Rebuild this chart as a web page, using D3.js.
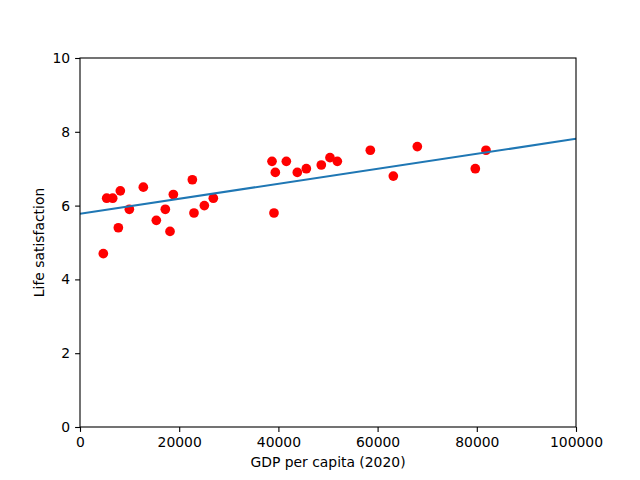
<!DOCTYPE html>
<html lang="en">
<head>
  <meta charset="UTF-8">
  <title>Life satisfaction vs GDP</title>
  <style>
    body { margin: 0; background: #fff; }
    svg { display: block; }
  </style>
</head>
<body>

  <svg id="svg" width="640" height="480"></svg>

  <script src="https://d3js.org/d3.v7.min.js"></script>
  <script>
    // GDP per capita (2020) for each country
    const gdp = [4700, 5380, 6590, 8130, 7730, 9950, 12770, 15390, 17200, 18150,
      18820, 22650, 22980, 25070, 26880, 38710, 39380, 39110, 41600, 43810,
      45630, 48650, 50400, 51880, 58530, 63170, 68010, 79700, 81850]
    // life satisfaction, same order
    const satisfaction = [4.7, 6.2, 6.2, 6.4, 5.4, 5.9, 6.5, 5.6, 5.9, 5.3,
      6.3, 6.7, 5.8, 6.0, 6.2, 7.2, 6.9, 5.8, 7.2, 6.9,
      7.0, 7.1, 7.3, 7.2, 7.5, 6.8, 7.6, 7.0, 7.5]

    // fitted line, end points
    const fitX = [0, 100000]
    const fitY = [5.78, 7.81]

    const xTicks = [0, 20000, 40000, 60000, 80000, 100000]
    const yTicks = [0, 2, 4, 6, 8, 10]

    const m = { left: 80, right: 576, top: 58, bottom: 427 }
    const font = 'DejaVu Sans, sans-serif'

    const svg = d3.select('#svg')

    const xScale = d3.scaleLinear()
      .domain([0, 100000])
      .range([m.left, m.right])

    const yScale = d3.scaleLinear()
      .domain([0, 10])
      .range([m.bottom, m.top])

    // points
    svg.append('g')
      .selectAll('circle')
      .data(gdp)
      .enter()
      .append('circle')
      .attr('cx', d => xScale(d))
      .attr('cy', (d, i) => yScale(satisfaction[i]))
      .attr('r', 4.85)
      .attr('fill', 'red')

    // fitted line, clipped to the axes
    svg.append('clipPath')
      .attr('id', 'clip')
      .append('rect')
      .attr('x', m.left)
      .attr('y', m.top)
      .attr('width', m.right - m.left)
      .attr('height', m.bottom - m.top)

    svg.append('path')
      .attr('d', d3.line()(fitX.map((x, i) => [xScale(x), yScale(fitY[i])])))
      .attr('stroke', '#1f77b4')
      .attr('stroke-width', 2.08)
      .attr('fill', 'none')
      .attr('clip-path', 'url(#clip)')

    // axes
    const xAxis = svg.append('g')
      .attr('transform', `translate(0,${m.bottom})`)
      .call(d3.axisBottom(xScale).tickValues(xTicks).tickFormat(d3.format('d'))
        .tickSizeInner(4.9).tickSizeOuter(0).tickPadding(4.9))

    const yAxis = svg.append('g')
      .attr('transform', `translate(${m.left},0)`)
      .call(d3.axisLeft(yScale).tickValues(yTicks).tickFormat(d3.format('d'))
        .tickSizeInner(4.9).tickSizeOuter(0).tickPadding(4.9))

    for (const ax of [xAxis, yAxis]) {
      ax.select('.domain').remove()
      ax.selectAll('line').attr('stroke', '#000').attr('stroke-width', 1.1)
      ax.selectAll('text')
        .style('font-family', font)
        .style('font-size', '13.9px')
        .attr('fill', '#000')
    }

    // frame
    svg.append('rect')
      .attr('x', m.left)
      .attr('y', m.top)
      .attr('width', m.right - m.left)
      .attr('height', m.bottom - m.top)
      .attr('fill', 'none')
      .attr('stroke', '#000')
      .attr('stroke-width', 1.1)

    // axis labels
    svg.append('text')
      .text('GDP per capita (2020)')
      .attr('x', (m.left + m.right) / 2)
      .attr('y', 467)
      .attr('text-anchor', 'middle')
      .style('font-family', font)
      .style('font-size', '13.9px')

    svg.append('text')
      .text('Life satisfaction')
      .attr('transform', `translate(44,${(m.top + m.bottom) / 2}) rotate(-90)`)
      .attr('text-anchor', 'middle')
      .style('font-family', font)
      .style('font-size', '13.9px')
  </script>
</body>
</html>
